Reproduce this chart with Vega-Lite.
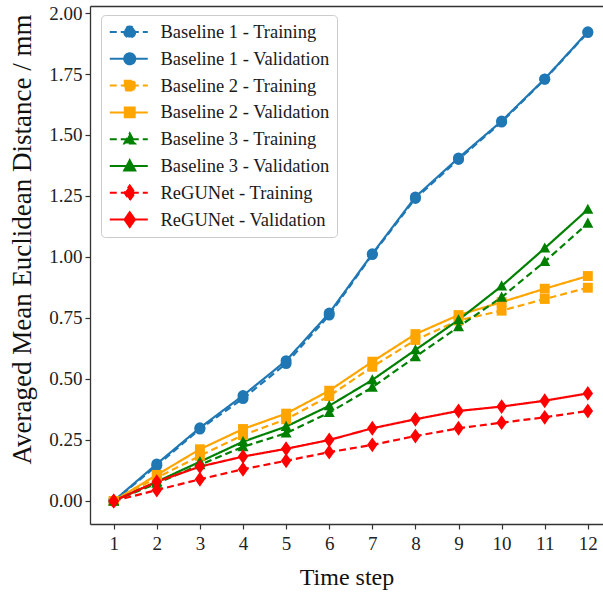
{
  "$schema": "https://vega.github.io/schema/vega-lite/v6.json",
  "width": 513,
  "height": 518,
  "autosize": {"type": "none"},
  "padding": {"left": 90, "top": 6, "right": 0, "bottom": 70},
  "background": "white",
  "config": {
    "view": {"stroke": null},
    "font": "Liberation Serif",
    "axis": {"grid": false, "labelFont": "Liberation Serif", "titleFont": "Liberation Serif", "titleFontWeight": "normal"}
  },
  "data": {
    "values": [
      {"t": 1, "v": 0.0, "series": "Baseline 1 - Training"},
      {"t": 2, "v": 0.145, "series": "Baseline 1 - Training"},
      {"t": 3, "v": 0.295, "series": "Baseline 1 - Training"},
      {"t": 4, "v": 0.42, "series": "Baseline 1 - Training"},
      {"t": 5, "v": 0.563, "series": "Baseline 1 - Training"},
      {"t": 6, "v": 0.762, "series": "Baseline 1 - Training"},
      {"t": 7, "v": 1.01, "series": "Baseline 1 - Training"},
      {"t": 8, "v": 1.24, "series": "Baseline 1 - Training"},
      {"t": 9, "v": 1.40, "series": "Baseline 1 - Training"},
      {"t": 10, "v": 1.553, "series": "Baseline 1 - Training"},
      {"t": 11, "v": 1.728, "series": "Baseline 1 - Training"},
      {"t": 12, "v": 1.92, "series": "Baseline 1 - Training"},
      {"t": 1, "v": 0.0, "series": "Baseline 1 - Validation"},
      {"t": 2, "v": 0.152, "series": "Baseline 1 - Validation"},
      {"t": 3, "v": 0.30, "series": "Baseline 1 - Validation"},
      {"t": 4, "v": 0.432, "series": "Baseline 1 - Validation"},
      {"t": 5, "v": 0.575, "series": "Baseline 1 - Validation"},
      {"t": 6, "v": 0.770, "series": "Baseline 1 - Validation"},
      {"t": 7, "v": 1.013, "series": "Baseline 1 - Validation"},
      {"t": 8, "v": 1.246, "series": "Baseline 1 - Validation"},
      {"t": 9, "v": 1.406, "series": "Baseline 1 - Validation"},
      {"t": 10, "v": 1.557, "series": "Baseline 1 - Validation"},
      {"t": 11, "v": 1.73, "series": "Baseline 1 - Validation"},
      {"t": 12, "v": 1.923, "series": "Baseline 1 - Validation"},
      {"t": 1, "v": 0.0, "series": "Baseline 2 - Training"},
      {"t": 2, "v": 0.095, "series": "Baseline 2 - Training"},
      {"t": 3, "v": 0.185, "series": "Baseline 2 - Training"},
      {"t": 4, "v": 0.27, "series": "Baseline 2 - Training"},
      {"t": 5, "v": 0.335, "series": "Baseline 2 - Training"},
      {"t": 6, "v": 0.43, "series": "Baseline 2 - Training"},
      {"t": 7, "v": 0.55, "series": "Baseline 2 - Training"},
      {"t": 8, "v": 0.66, "series": "Baseline 2 - Training"},
      {"t": 9, "v": 0.74, "series": "Baseline 2 - Training"},
      {"t": 10, "v": 0.78, "series": "Baseline 2 - Training"},
      {"t": 11, "v": 0.828, "series": "Baseline 2 - Training"},
      {"t": 12, "v": 0.874, "series": "Baseline 2 - Training"},
      {"t": 1, "v": 0.0, "series": "Baseline 2 - Validation"},
      {"t": 2, "v": 0.107, "series": "Baseline 2 - Validation"},
      {"t": 3, "v": 0.212, "series": "Baseline 2 - Validation"},
      {"t": 4, "v": 0.295, "series": "Baseline 2 - Validation"},
      {"t": 5, "v": 0.358, "series": "Baseline 2 - Validation"},
      {"t": 6, "v": 0.452, "series": "Baseline 2 - Validation"},
      {"t": 7, "v": 0.571, "series": "Baseline 2 - Validation"},
      {"t": 8, "v": 0.684, "series": "Baseline 2 - Validation"},
      {"t": 9, "v": 0.762, "series": "Baseline 2 - Validation"},
      {"t": 10, "v": 0.815, "series": "Baseline 2 - Validation"},
      {"t": 11, "v": 0.87, "series": "Baseline 2 - Validation"},
      {"t": 12, "v": 0.922, "series": "Baseline 2 - Validation"},
      {"t": 1, "v": 0.0, "series": "Baseline 3 - Training"},
      {"t": 2, "v": 0.072, "series": "Baseline 3 - Training"},
      {"t": 3, "v": 0.148, "series": "Baseline 3 - Training"},
      {"t": 4, "v": 0.222, "series": "Baseline 3 - Training"},
      {"t": 5, "v": 0.278, "series": "Baseline 3 - Training"},
      {"t": 6, "v": 0.362, "series": "Baseline 3 - Training"},
      {"t": 7, "v": 0.466, "series": "Baseline 3 - Training"},
      {"t": 8, "v": 0.591, "series": "Baseline 3 - Training"},
      {"t": 9, "v": 0.714, "series": "Baseline 3 - Training"},
      {"t": 10, "v": 0.835, "series": "Baseline 3 - Training"},
      {"t": 11, "v": 0.981, "series": "Baseline 3 - Training"},
      {"t": 12, "v": 1.138, "series": "Baseline 3 - Training"},
      {"t": 1, "v": 0.0, "series": "Baseline 3 - Validation"},
      {"t": 2, "v": 0.079, "series": "Baseline 3 - Validation"},
      {"t": 3, "v": 0.161, "series": "Baseline 3 - Validation"},
      {"t": 4, "v": 0.243, "series": "Baseline 3 - Validation"},
      {"t": 5, "v": 0.305, "series": "Baseline 3 - Validation"},
      {"t": 6, "v": 0.39, "series": "Baseline 3 - Validation"},
      {"t": 7, "v": 0.496, "series": "Baseline 3 - Validation"},
      {"t": 8, "v": 0.619, "series": "Baseline 3 - Validation"},
      {"t": 9, "v": 0.742, "series": "Baseline 3 - Validation"},
      {"t": 10, "v": 0.881, "series": "Baseline 3 - Validation"},
      {"t": 11, "v": 1.036, "series": "Baseline 3 - Validation"},
      {"t": 12, "v": 1.195, "series": "Baseline 3 - Validation"},
      {"t": 1, "v": 0.0, "series": "ReGUNet - Training"},
      {"t": 2, "v": 0.045, "series": "ReGUNet - Training"},
      {"t": 3, "v": 0.089, "series": "ReGUNet - Training"},
      {"t": 4, "v": 0.13, "series": "ReGUNet - Training"},
      {"t": 5, "v": 0.165, "series": "ReGUNet - Training"},
      {"t": 6, "v": 0.2, "series": "ReGUNet - Training"},
      {"t": 7, "v": 0.23, "series": "ReGUNet - Training"},
      {"t": 8, "v": 0.266, "series": "ReGUNet - Training"},
      {"t": 9, "v": 0.298, "series": "ReGUNet - Training"},
      {"t": 10, "v": 0.321, "series": "ReGUNet - Training"},
      {"t": 11, "v": 0.343, "series": "ReGUNet - Training"},
      {"t": 12, "v": 0.369, "series": "ReGUNet - Training"},
      {"t": 1, "v": 0.0, "series": "ReGUNet - Validation"},
      {"t": 2, "v": 0.079, "series": "ReGUNet - Validation"},
      {"t": 3, "v": 0.141, "series": "ReGUNet - Validation"},
      {"t": 4, "v": 0.182, "series": "ReGUNet - Validation"},
      {"t": 5, "v": 0.214, "series": "ReGUNet - Validation"},
      {"t": 6, "v": 0.25, "series": "ReGUNet - Validation"},
      {"t": 7, "v": 0.298, "series": "ReGUNet - Validation"},
      {"t": 8, "v": 0.335, "series": "ReGUNet - Validation"},
      {"t": 9, "v": 0.369, "series": "ReGUNet - Validation"},
      {"t": 10, "v": 0.387, "series": "ReGUNet - Validation"},
      {"t": 11, "v": 0.411, "series": "ReGUNet - Validation"},
      {"t": 12, "v": 0.441, "series": "ReGUNet - Validation"}
    ]
  },
  "resolve": {"axis": {"x": "independent"}},
  "layer": [
    {
      "mark": {"type": "line", "strokeWidth": 2.2},
      "encoding": {
        "x": {
          "field": "t", "type": "quantitative",
          "scale": {"domain": [0.45, 12.352], "nice": false, "zero": false},
          "axis": {
            "orient": "bottom", "values": [1,2,3,4,5,6,7,8,9,10,11,12], "format": "d",
            "labelFontSize": 19, "labelColor": "#222222", "labelPadding": 5,
            "tickSize": 5, "tickColor": "#333333", "tickWidth": 1.2,
            "domainColor": "#333333", "domainWidth": 1.3,
            "title": "Time step", "titleFontSize": 24, "titleColor": "#111111",
            "titleY": 53, "titleBaseline": "middle"
          }
        },
        "y": {
          "field": "v", "type": "quantitative",
          "scale": {"domain": [-0.0943, 2.0287], "nice": false, "zero": false},
          "axis": {
            "values": [0, 0.25, 0.5, 0.75, 1, 1.25, 1.5, 1.75, 2], "format": ".2f",
            "labelFontSize": 19, "labelColor": "#222222", "labelPadding": 3,
            "tickSize": 5, "tickColor": "#333333", "tickWidth": 1.2,
            "domainColor": "#333333", "domainWidth": 1.3,
            "title": "Averaged Mean Euclidean Distance / mm", "titleFontSize": 27, "titleColor": "#111111",
            "titleX": -68, "titleY": 233, "titleAlign": "center", "titleBaseline": "middle", "titleAngle": -90
          }
        },
        "color": {
          "field": "series", "type": "nominal",
          "scale": {
            "domain": ["Baseline 1 - Training", "Baseline 1 - Validation", "Baseline 2 - Training", "Baseline 2 - Validation", "Baseline 3 - Training", "Baseline 3 - Validation", "ReGUNet - Training", "ReGUNet - Validation"],
            "range": ["#1f77b4", "#1f77b4", "#ffa500", "#ffa500", "#008000", "#008000", "#ff0000", "#ff0000"]
          },
          "legend": {
            "orient": "none", "legendX": 11, "legendY": 9, "title": null,
            "labelFont": "Liberation Serif", "labelFontSize": 18.5, "labelColor": "#1a1a1a", "labelLimit": 400,
            "symbolSize": 121, "labelOffset": 34, "padding": 7, "rowPadding": 6.8, "clipHeight": 20,
            "strokeColor": "#cccccc", "fillColor": "rgba(255,255,255,0.8)", "cornerRadius": 4,
            "symbolStrokeWidth": 2,
            "encode": {
              "symbols": {
                "update": {
                  "shape": {"signal": "'M-1.36,0H5.55 ' + (indexof(datum.value, 'Baseline 1') >= 0 ? 'M3.27,0A1,1,0,1,1,1.27,0A1,1,0,1,1,3.27,0Z' : indexof(datum.value, 'Baseline 2') >= 0 ? 'M1.37,-0.9H3.17V0.9H1.37Z' : indexof(datum.value, 'Baseline 3') >= 0 ? 'M2.27,-1.05L3.27,0.8L1.27,0.8Z' : 'M2.27,-1.35L3.22,0L2.27,1.35L1.32,0Z')"},
                  "strokeWidth": {"value": 2},
                  "opacity": {"value": 1}
                }
              }
            }
          }
        },
        "strokeDash": {
          "field": "series", "type": "nominal",
          "scale": {
            "domain": ["Baseline 1 - Training", "Baseline 1 - Validation", "Baseline 2 - Training", "Baseline 2 - Validation", "Baseline 3 - Training", "Baseline 3 - Validation", "ReGUNet - Training", "ReGUNet - Validation"],
            "range": [[7, 4], [1, 0], [7, 4], [1, 0], [7, 4], [1, 0], [7, 4], [1, 0]]
          },
          "legend": null
        }
      }
    },
    {
      "transform": [{"filter": {"field": "series", "oneOf": ["Baseline 1 - Training", "Baseline 1 - Validation"]}}],
      "mark": {"type": "point", "filled": true, "size": 121, "opacity": 1, "shape": "circle"},
      "encoding": {
        "x": {
          "field": "t", "type": "quantitative",
          "scale": {"domain": [0.45, 12.352], "nice": false, "zero": false},
          "axis": {"orient": "top", "labels": false, "ticks": false, "title": null, "domainColor": "#333333", "domainWidth": 1.3}
        },
        "y": {"field": "v", "type": "quantitative"},
        "color": {"field": "series", "type": "nominal"}
      }
    },
    {
      "transform": [{"filter": {"field": "series", "oneOf": ["Baseline 2 - Training", "Baseline 2 - Validation"]}}],
      "mark": {"type": "point", "filled": true, "size": 121, "opacity": 1, "shape": "M-0.9,-0.9H0.9V0.9H-0.9Z"},
      "encoding": {
        "x": {"field": "t", "type": "quantitative", "axis": null},
        "y": {"field": "v", "type": "quantitative"},
        "color": {"field": "series", "type": "nominal"}
      }
    },
    {
      "transform": [{"filter": {"field": "series", "oneOf": ["Baseline 3 - Training", "Baseline 3 - Validation"]}}],
      "mark": {"type": "point", "filled": true, "size": 121, "opacity": 1, "shape": "M0,-1.05L1,0.8L-1,0.8Z"},
      "encoding": {
        "x": {"field": "t", "type": "quantitative", "axis": null},
        "y": {"field": "v", "type": "quantitative"},
        "color": {"field": "series", "type": "nominal"}
      }
    },
    {
      "transform": [{"filter": {"field": "series", "oneOf": ["ReGUNet - Training", "ReGUNet - Validation"]}}],
      "mark": {"type": "point", "filled": true, "size": 121, "opacity": 1, "shape": "M0,-1.35L0.95,0L0,1.35L-0.95,0Z"},
      "encoding": {
        "x": {"field": "t", "type": "quantitative", "axis": null},
        "y": {"field": "v", "type": "quantitative"},
        "color": {"field": "series", "type": "nominal"}
      }
    }
  ]
}
